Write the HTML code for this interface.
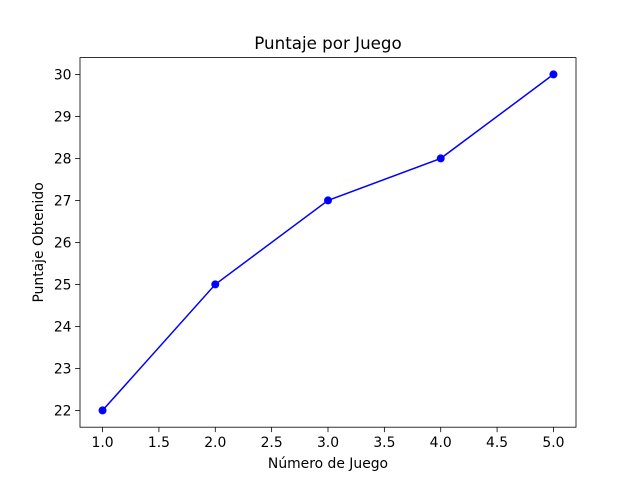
<!DOCTYPE html>
<html><head><meta charset="utf-8"><style>
html,body{margin:0;padding:0;background:#fff;}
svg{display:block;font-family:"DejaVu Sans","Liberation Sans",sans-serif;}
</style></head><body>
<svg id="chart" width="640" height="480" xmlns="http://www.w3.org/2000/svg"></svg>
<script>
const games = [1, 2, 3, 4, 5];
const scores = [22, 25, 27, 28, 30];
const xTicks = [1.0, 1.5, 2.0, 2.5, 3.0, 3.5, 4.0, 4.5, 5.0];
const yTicks = [22, 23, 24, 25, 26, 27, 28, 29, 30];

const svg = document.getElementById('chart');
const NS = 'http://www.w3.org/2000/svg';
const L = 80, R = 576, T = 57.6, B = 427.2;
const xMin = 0.8, xMax = 5.2, yMin = 21.6, yMax = 30.4;
function sx(v){ return L + (v - xMin) / (xMax - xMin) * (R - L); }
function sy(v){ return B - (v - yMin) / (yMax - yMin) * (B - T); }
function mk(tag, attrs, parent){
  const e = document.createElementNS(NS, tag);
  for (const k in attrs) e.setAttribute(k, attrs[k]);
  (parent || svg).appendChild(e);
  return e;
}

const line = mk('polyline', {points: games.map((g,i)=>sx(g)+','+sy(scores[i])).join(' '), fill:'none', stroke:'#0000ff', 'stroke-width':1.5});


games.forEach((g,i)=>{
  const c = mk('circle', {cx:sx(g), cy:sy(scores[i]), r:4, fill:'#0000ff'});
  
  
});

const frame = mk('rect', {x:L, y:T, width:R-L, height:B-T, fill:'none', stroke:'#000', 'stroke-width':0.8});



xTicks.forEach(t=>{
  const x = sx(t);
  mk('line', {x1:x, y1:B, x2:x, y2:B+4.9, stroke:'#000', 'stroke-width':0.8});
  const tx = mk('text', {x:x, y:B+20, 'text-anchor':'middle', 'font-size':13.9, fill:'#000'});
  tx.textContent = t.toFixed(1);
  
  
});
yTicks.forEach(t=>{
  const y = sy(t);
  mk('line', {x1:L, y1:y, x2:L-4.9, y2:y, stroke:'#000', 'stroke-width':0.8});
  const tx = mk('text', {x:L-8.5, y:y+5, 'text-anchor':'end', 'font-size':13.9, fill:'#000'});
  tx.textContent = t;
  
  
});

const title = mk('text', {x:(L+R)/2, y:49, 'text-anchor':'middle', 'font-size':16.7, fill:'#000'});
title.textContent = 'Puntaje por Juego';



const xl = mk('text', {x:(L+R)/2, y:468, 'text-anchor':'middle', 'font-size':13.9, fill:'#000'});
xl.textContent = 'Número de Juego';



const yl = mk('text', {x:0, y:0, 'text-anchor':'middle', 'font-size':13.9, fill:'#000', transform:'translate(43,'+((T+B)/2)+') rotate(-90)'});
yl.textContent = 'Puntaje Obtenido';


</script>
</body></html>
